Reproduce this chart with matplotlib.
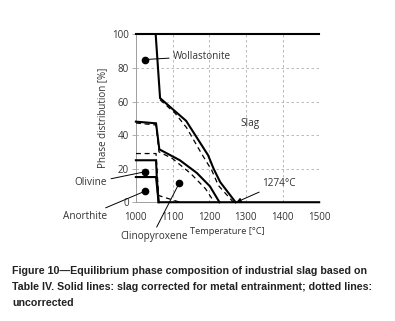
import matplotlib
matplotlib.use("Agg")
from matplotlib import pyplot as plt

plt.rcParams['font.family'] = ['Open Sans', 'DejaVu Sans']

# solid lines: slag corrected for metal entrainment
wol_x = [1054, 1066, 1100, 1137, 1197, 1212, 1230, 1272]
wol_y = [100, 62, 55.5, 48.5, 28, 20, 12, 0]
cpx_x = [1000, 1055, 1064, 1120, 1166, 1202, 1228]
cpx_y = [48, 47, 31.5, 25, 17.5, 9.5, 0]
oli_x = [1000, 1055, 1057, 1062, 1500]
oli_y = [25, 25, 15, 0, 0]
ano_x = [1000, 1055, 1062]
ano_y = [15, 15, 0]
top_x = [1000, 1500]
top_y = [100, 100]

# dotted lines: uncorrected
wol_u_x = [1066, 1107, 1138, 1179, 1207, 1225, 1266]
wol_u_y = [61, 53, 44.5, 29, 19, 10, 0]
cpx_u_x = [1000, 1055, 1063, 1100, 1150, 1190, 1214]
cpx_u_y = [47.2, 46, 30, 26, 17, 8, 0]
oli_u_x = [1000, 1055, 1062, 1120]
oli_u_y = [29, 29, 4, 0]

fig = plt.figure(figsize=(3.95, 3.21), dpi=100)
ax = fig.add_axes([0.344, 0.370, 0.464, 0.523])

for x, y in [(wol_x, wol_y), (cpx_x, cpx_y), (oli_x, oli_y), (ano_x, ano_y), (top_x, top_y)]:
    ax.plot(x, y, color='black', lw=1.5, solid_joinstyle='miter', clip_on=False, zorder=3)
for x, y in [(wol_u_x, wol_u_y), (cpx_u_x, cpx_u_y), (oli_u_x, oli_u_y)]:
    ax.plot(x, y, color='black', lw=0.9, ls=(0, (4, 3)), zorder=3)

ax.set_xlim(1000, 1500)
ax.set_ylim(0, 100)
ax.set_xticks(range(1000, 1501, 100))
ax.set_yticks(range(0, 101, 20))
ax.grid(True, color='#b0b0b0', ls=(0, (3, 3)), lw=0.6)
for s in ['top', 'right']:
    ax.spines[s].set_visible(False)
for s in ['left', 'bottom']:
    ax.spines[s].set_color('#a0a0a0')
    ax.spines[s].set_linewidth(0.7)
ax.tick_params(axis='y', colors='#a0a0a0', length=3, width=0.6, labelcolor='#333333', labelsize=7, pad=2)
ax.tick_params(axis='x', length=0, labelcolor='#333333', labelsize=7, pad=7)
ax.set_ylabel('Phase distribution [%]', fontsize=7, color='#333333', labelpad=3)
ax.set_xlabel('Temperature [°C]', fontsize=6.7, color='#333333', labelpad=3)

dot = dict(marker='o', color='black', ms=4.5, ls='none', zorder=4)
ann = dict(fontsize=7.2, color='#333333', annotation_clip=False)
line = dict(arrowstyle='-', color='black', lw=0.7, shrinkA=1, shrinkB=2)

ax.plot([1026], [85], **dot)
ax.annotate('Wollastonite', xy=(1026, 85), xytext=(1102, 87), va='center', ha='left', arrowprops=line, **ann)
ax.text(1311, 47, 'Slag', fontsize=7.2, color='#333333', ha='center', va='center')
ax.plot([1026], [18.2], **dot)
ax.annotate('Olivine', xy=(1026, 18.2), xytext=(921, 11.5), va='center', ha='right', arrowprops=line, **ann)
ax.plot([1026], [6.7], **dot)
ax.annotate('Anorthite', xy=(1026, 6.7), xytext=(921, -8.6), va='center', ha='right', arrowprops=line, **ann)
ax.plot([1118], [11.3], **dot)
ax.annotate('Clinopyroxene', xy=(1118, 11.3), xytext=(959, -20.5), va='center', ha='left',
            arrowprops=dict(line, relpos=(0.5, 1.0)), **ann)
ax.annotate('1274°C', xy=(1274, 0), xytext=(1345, 11.3), va='center', ha='left',
            arrowprops=dict(arrowstyle='-|>', color='black', lw=0.7, mutation_scale=7, shrinkA=1, shrinkB=0), **ann)

cap = ('Figure 10\u2014Equilibrium phase composition of industrial slag based on\n'
       'Table IV. Solid lines: slag corrected for metal entrainment; dotted lines:\n'
       'uncorrected')
fig.text(0.031, 1 - 266.5 / 321, cap, family='Liberation Sans', weight='bold', fontsize=7.7,
         color='#222222', ha='left', va='top', linespacing=1.7)

fig.savefig('out.png', dpi=100)
